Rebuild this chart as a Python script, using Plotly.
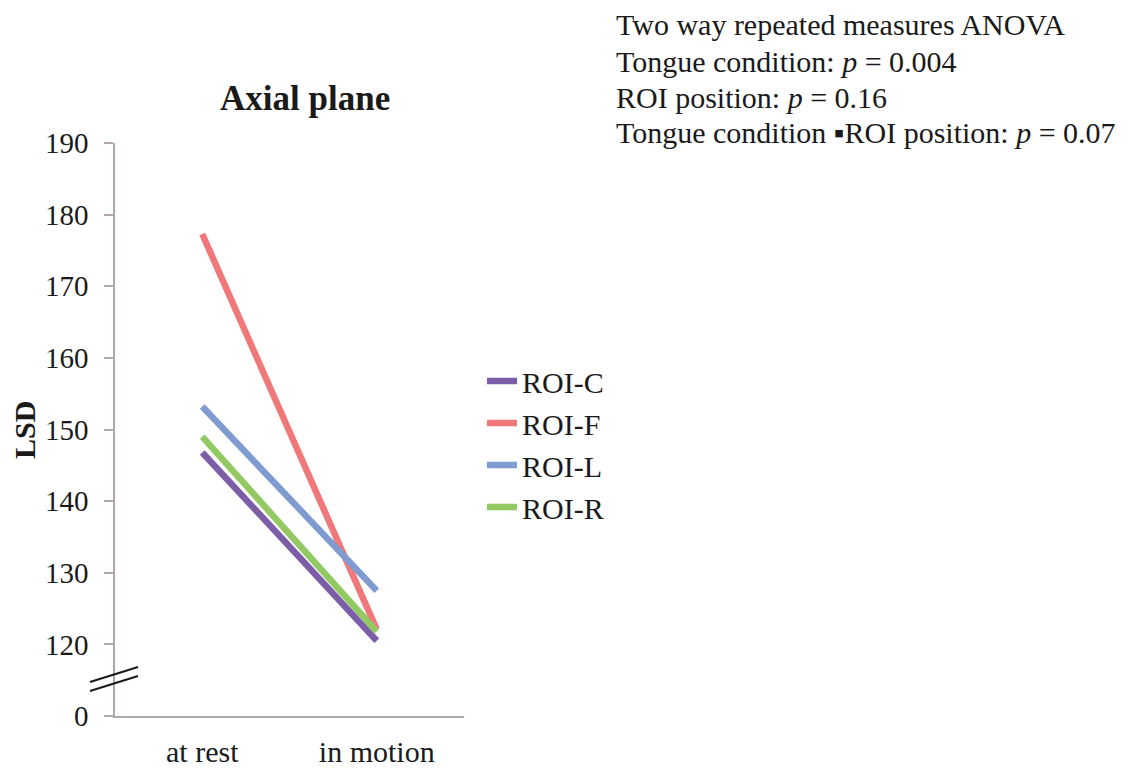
import plotly.graph_objects as go

categories = ["at rest", "in motion"]
series_names = ["ROI-C", "ROI-F", "ROI-L", "ROI-R"]
roi_c = [146.8, 120.5]
roi_f = [177.3, 122.1]
roi_l = [153.2, 127.5]
roi_r = [149.0, 121.8]
colors = ["#7B5EA7", "#F0787A", "#7F9BCF", "#92C963"]

tick_vals = [110, 120, 130, 140, 150, 160, 170, 180, 190]
tick_text = ["0", "120", "130", "140", "150", "160", "170", "180", "190"]

stats_lines = [
    "Two way repeated measures ANOVA",
    "Tongue condition: <i>p</i> = 0.004",
    "ROI position: <i>p</i> = 0.16",
    "Tongue condition \u25aaROI position: <i>p</i> = 0.07",
]

FONT = "Liberation Serif, Times New Roman, serif"
INK = "#1a1a1a"
AXC = "#B0A8A8"

fig = go.Figure()
for name, vals, col in zip(series_names, [roi_c, roi_f, roi_l, roi_r], colors):
    fig.add_trace(go.Scatter(x=categories, y=vals, name=name, mode="lines",
                             line=dict(color=col, width=6.5)))

OFF = 8  # page body margin
W, H = 1130, 769
L, R, T, B = 115, 464, 143, 716
pw, ph = R - L, B - T

def px(x):
    return (x - L) / pw

def py(y):
    return (B - y) / ph

fig.update_layout(
    width=W, height=H,
    margin=dict(l=L - OFF, r=W - R + OFF, t=T - OFF, b=H - B + OFF),
    paper_bgcolor="white", plot_bgcolor="white",
    font=dict(family=FONT, size=30, color=INK),
    showlegend=True,
    legend=dict(x=px(482), y=py(355), xanchor="left", yanchor="top",
                font=dict(size=30), bgcolor="rgba(0,0,0,0)", itemwidth=30,
                tracegroupgap=0),
    xaxis=dict(type="category", range=[-0.5, 1.5], showgrid=False, zeroline=False,
               showline=True, linecolor=AXC, linewidth=1.5, automargin=False,
               ticks="outside", ticklen=8, tickcolor="rgba(0,0,0,0)",
               tickfont=dict(size=30)),
    yaxis=dict(range=[110, 190], tickvals=tick_vals, ticktext=tick_text,
               showgrid=False, zeroline=False, showline=True, automargin=False,
               linecolor=AXC, linewidth=1.5, ticks="outside", ticklen=9,
               tickcolor=AXC, tickwidth=1.5, ticklabelstandoff=10,
               tickfont=dict(size=29)),
)

# title
fig.add_annotation(text="<b>Axial plane</b>", xref="paper", yref="paper",
                   x=px(305), y=py(98), showarrow=False,
                   font=dict(size=35, family=FONT, color=INK),
                   xanchor="center", yanchor="middle")
# y label
fig.add_annotation(text="<b>LSD</b>", xref="paper", yref="paper",
                   x=px(24), y=py(430), showarrow=False, textangle=-90,
                   font=dict(size=30, family=FONT, color=INK),
                   xanchor="center", yanchor="middle")
# stats text
for i, line in enumerate(stats_lines):
    fig.add_annotation(text=line, xref="paper", yref="paper",
                       x=px(614), y=py(25 + 36 * i), showarrow=False,
                       font=dict(size=30, family=FONT, color=INK),
                       xanchor="left", yanchor="middle", align="left")

# axis break marks
for y0, y1 in [(682, 667), (691, 676)]:
    fig.add_shape(type="line", xref="paper", yref="paper",
                  x0=px(90), x1=px(138), y0=py(y0), y1=py(y1),
                  line=dict(color=INK, width=2))

fig.write_html("out.html")
